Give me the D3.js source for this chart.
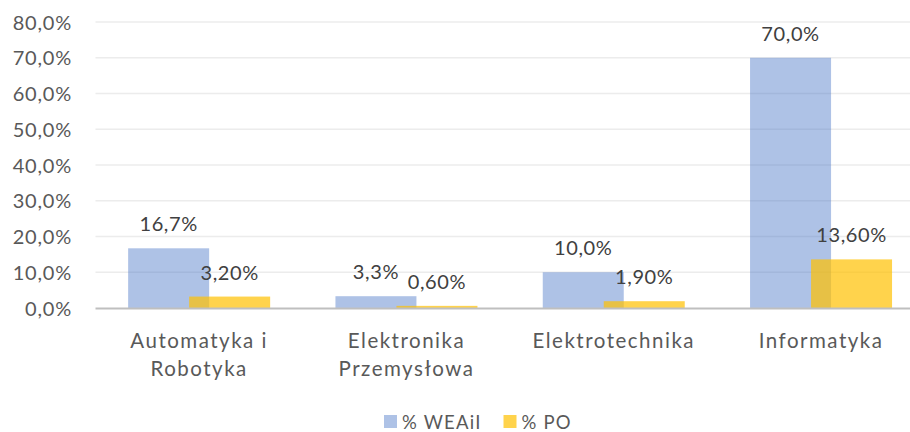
<!DOCTYPE html>
<html>
<head>
<meta charset="utf-8">
<script src="https://cdn.jsdelivr.net/npm/d3@7"></script>
<style>
  body { margin: 0; background: #fff; }
  text { font-family: Lato, "Open Sans", sans-serif; }
</style>
</head>
<body>
<div id="chart-area"></div>
<script>
// SVG Size
var width = 910,
    height = 432;

// data
var categories = [["Automatyka i", "Robotyka"], ["Elektronika", "Przemysłowa"], ["Elektrotechnika"], ["Informatyka"]];
var weaiiValues = [16.7, 3.3, 10.0, 70.0];
var weaiiLabels = ["16,7%", "3,3%", "10,0%", "70,0%"];
var poValues = [3.2, 0.6, 1.9, 13.6];
var poLabels = ["3,20%", "0,60%", "1,90%", "13,60%"];
var yTicks = [0, 10, 20, 30, 40, 50, 60, 70, 80];
var seriesNames = ["% WEAiI", "% PO"];

var plotLeft = 95.5,
    plotTop = 22,
    plotBottom = 308,
    band = 207.3;

var svg = d3.select("#chart-area").append("svg")
    .attr("width", width)
    .attr("height", height);

var xScale = d3.scaleBand()
    .domain(d3.range(categories.length))
    .range([plotLeft, plotLeft + band * categories.length]);

var yScale = d3.scaleLinear()
    .domain([0, 80])
    .range([plotBottom, plotTop]);

// gridlines
svg.append("g")
    .selectAll("line")
    .data(yTicks.filter(function(d){ return d > 0; }))
    .enter()
    .append("line")
    .attr("x1", plotLeft)
    .attr("x2", width)
    .attr("y1", function(d){ return yScale(d); })
    .attr("y2", function(d){ return yScale(d); })
    .attr("stroke", "#ececec")
    .attr("stroke-width", 1.3);

var yAxis = d3.axisLeft()
    .scale(yScale)
    .tickValues(yTicks)
    .tickSize(0)
    .tickPadding(0)
    .tickFormat(function(d){ return d.toFixed(1).replace(".", ",") + "%"; });

var yg = svg.append("g")
    .attr("transform", "translate(72,0)")
    .call(yAxis);
yg.select(".domain").remove();
yg.selectAll("text")
    .attr("fill", "#595959")
    .attr("font-family", "Lato, sans-serif")
    .attr("font-size", "20px")
    .attr("letter-spacing", "0.8px")
    .attr("dy", "0.36em");

var barW = 81;

// blue bars
svg.append("g")
    .selectAll("rect")
    .data(weaiiValues)
    .enter()
    .append("rect")
    .attr("x", function(d, i){ return xScale(i) + xScale.bandwidth() / 2 - 71; })
    .attr("y", function(d){ return yScale(d); })
    .attr("width", barW)
    .attr("height", function(d){ return plotBottom - yScale(d); })
    .attr("fill", "#4472c4")
    .attr("fill-opacity", 0.43);

// yellow bars
svg.append("g")
    .selectAll("rect")
    .data(poValues)
    .enter()
    .append("rect")
    .attr("x", function(d, i){ return xScale(i) + xScale.bandwidth() / 2 - 10; })
    .attr("y", function(d){ return yScale(d); })
    .attr("width", barW)
    .attr("height", function(d){ return plotBottom - yScale(d); })
    .attr("fill", "#ffc000")
    .attr("fill-opacity", 0.7);

// axis line
svg.append("line")
    .attr("x1", plotLeft)
    .attr("x2", width)
    .attr("y1", plotBottom + 0.5)
    .attr("y2", plotBottom + 0.5)
    .attr("stroke", "#bfbfbf")
    .attr("stroke-width", 2);

// value labels
svg.append("g")
    .selectAll("text")
    .data(weaiiValues)
    .enter()
    .append("text")
    .attr("x", function(d, i){ return xScale(i) + xScale.bandwidth() / 2 - 71 + barW / 2; })
    .attr("y", function(d){ return yScale(d) - 17; })
    .attr("text-anchor", "middle")
    .attr("font-size", "20px")
    .attr("letter-spacing", "0.6px")
    .attr("fill", "#404040")
    .text(function(d, i){ return weaiiLabels[i]; });

svg.append("g")
    .selectAll("text")
    .data(poValues)
    .enter()
    .append("text")
    .attr("x", function(d, i){ return xScale(i) + xScale.bandwidth() / 2 - 10 + barW / 2; })
    .attr("y", function(d){ return yScale(d) - 17; })
    .attr("text-anchor", "middle")
    .attr("font-size", "20px")
    .attr("letter-spacing", "0.6px")
    .attr("fill", "#404040")
    .text(function(d, i){ return poLabels[i]; });

// category labels
var cat = svg.append("g")
    .selectAll("text")
    .data(categories)
    .enter()
    .append("text")
    .attr("text-anchor", "middle")
    .attr("font-size", "20.5px")
    .attr("letter-spacing", "1.5px")
    .attr("fill", "#595959")
    .attr("transform", function(d, i){ return "translate(" + (xScale(i) + xScale.bandwidth() / 2) + ",348)"; });
cat.selectAll("tspan")
    .data(function(d){ return d; })
    .enter()
    .append("tspan")
    .attr("x", 0)
    .attr("dy", function(d, i){ return i === 0 ? 0 : 27.5; })
    .text(function(d){ return d; });

// legend
var legendColors = [["#4472c4", 0.43], ["#ffc000", 0.7]];
var legendX = [384, 503.5];
var legend = svg.append("g")
    .selectAll("g")
    .data(seriesNames)
    .enter()
    .append("g")
    .attr("transform", function(d, i){ return "translate(" + legendX[i] + ",415)"; });
legend.append("rect")
    .attr("width", 13)
    .attr("height", 13)
    .attr("fill", function(d, i){ return legendColors[i][0]; })
    .attr("fill-opacity", function(d, i){ return legendColors[i][1]; });
legend.append("text")
    .attr("x", 18)
    .attr("y", 13.5)
    .attr("font-size", "18.5px")
    .attr("letter-spacing", "1.2px")
    .attr("fill", "#595959")
    .text(function(d){ return d; });
</script>
</body>
</html>
